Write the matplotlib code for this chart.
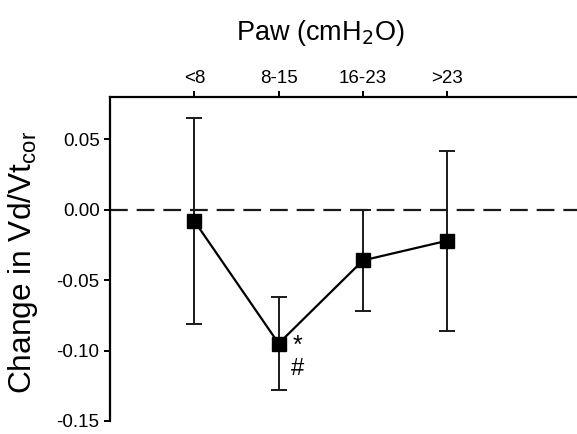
import matplotlib.pyplot as plt

plt.rcParams['font.family'] = ['Liberation Sans', 'DejaVu Sans']

# Paw groups and change in Vd/Vt_cor (mean with lower/upper bar ends)
groups = ['<8', '8-15', '16-23', '>23']
mean_change = [-0.008, -0.095, -0.036, -0.022]
bar_low = [-0.081, -0.128, -0.072, -0.086]
bar_high = [0.065, -0.062, 0.000, 0.042]
y_ticks = [-0.15, -0.10, -0.05, 0.00, 0.05]


def main():
    fig = plt.figure(figsize=(5.77, 4.34), dpi=100)
    # axes run past the right edge of the picture, like the cropped original
    ax = fig.add_axes([0.1906, 0.030, 0.877, 0.7465])

    xs = list(range(1, len(groups) + 1))
    err_lo = [m - lo for m, lo in zip(mean_change, bar_low)]
    err_hi = [hi - m for m, hi in zip(mean_change, bar_high)]

    ax.axhline(0, color='#1a1a1a', lw=1.6, linestyle=(0, (8, 4)), zorder=1)
    ax.errorbar(xs, mean_change, yerr=[err_lo, err_hi], fmt='none',
                ecolor='#1a1a1a', elinewidth=1.4, capsize=6, capthick=1.4,
                zorder=2)
    ax.plot(xs, mean_change, color='black', lw=1.6, marker='s',
            markersize=10, zorder=3)

    ax.text(xs[1] + 0.17, mean_change[1] - 0.002, '*', fontsize=18,
            ha='left', va='center')
    ax.text(xs[1] + 0.15, mean_change[1] - 0.018, '#', fontsize=17,
            ha='left', va='center')

    ax.set_xlim(0, 6)
    ax.set_ylim(-0.15, 0.08)
    ax.set_xticks(xs)
    ax.set_xticklabels(groups)
    ax.set_yticks(y_ticks)
    ax.set_yticklabels([f'{v:.2f}' for v in y_ticks])
    ax.xaxis.tick_top()

    fig.text(320 / 577, 1 - 39.5 / 434, 'Paw (cmH$_2$O)', fontsize=19.5,
             ha='center', va='baseline')
    fig.text(23 / 577, 1 - 262 / 434, 'Change in Vd/Vt$_{\\mathregular{cor}}$',
             fontsize=22.8, rotation=90, ha='center', va='center')

    ax.tick_params(axis='both', direction='out', labelsize=13.5,
                   length=4.5, width=1.4, color='black', pad=3)
    ax.spines['bottom'].set_visible(False)
    for side in ['left', 'top', 'right']:
        ax.spines[side].set_linewidth(1.6)

    fig.savefig('out.png', dpi=100)
    plt.close(fig)


if __name__ == '__main__':
    main()
